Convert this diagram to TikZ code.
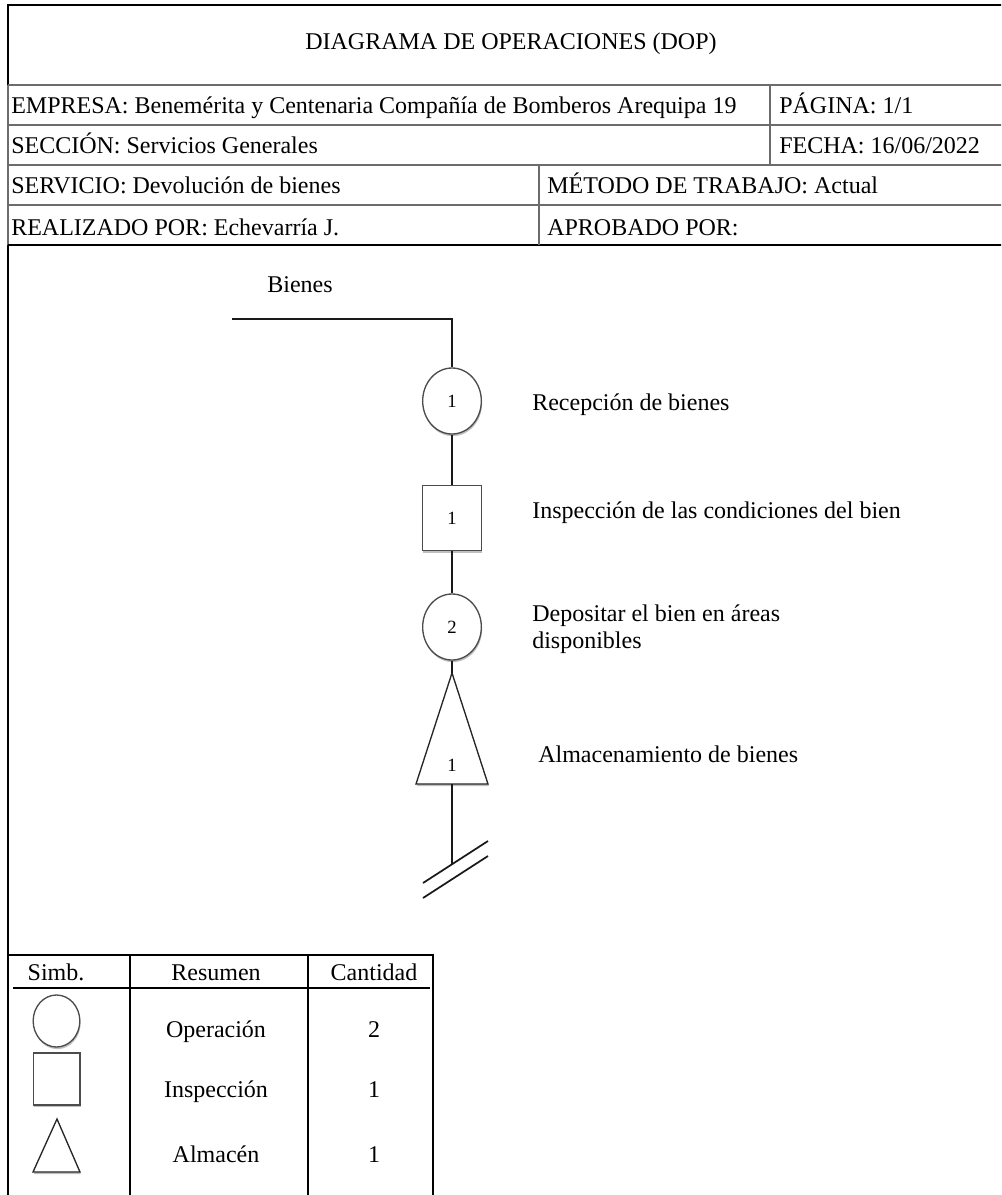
\documentclass[tikz,border=0pt]{standalone}
\usepackage{fontspec}
\setmainfont{Liberation Serif}
\usetikzlibrary{shapes.geometric,shadows}

\tikzset{
  frameline/.style={line width=1.3pt, black},
  rowline/.style={line width=0.9pt, gray!85!black},
  flowline/.style={line width=1.3pt, black!90},
  lbl/.style={inner sep=0pt, anchor=base west, font=\fontsize{18}{21}\selectfont},
  ctr/.style={inner sep=0pt, anchor=base, font=\fontsize{18}{21}\selectfont},
  symshadow/.style={drop shadow={shadow xshift=0.6pt, shadow yshift=-1.6pt, opacity=0.25, fill=black}},
  opcircle/.style={ellipse, draw=black!70, line width=1pt, fill=white, symshadow,
    minimum width=44pt, minimum height=49.5pt, inner sep=0pt, font=\fontsize{14}{16}\selectfont},
  inspbox/.style={rectangle, draw=black!70, line width=1pt, fill=white, symshadow,
    minimum width=44pt, minimum height=49pt, inner sep=0pt, font=\fontsize{14}{16}\selectfont},
  storetri/.style={draw=black!85, line width=1pt, fill=white, symshadow},
}

\begin{document}
\begin{tikzpicture}[x=0.75pt, y=-0.75pt]
\useasboundingbox (0,0) rectangle (1001,1195);
\clip (0,0) rectangle (1001,1195);

% ---- header form ----
\draw[frameline] (8,85) -- (8,5) -- (1010,5);
\draw[rowline] (8,85) -- (8,245);
\draw[frameline] (8,245) -- (8,1200);
\draw[rowline] (8,85) -- (1010,85);
\draw[rowline] (8,125) -- (1010,125);
\draw[rowline] (8,165) -- (1010,165);
\draw[rowline] (8,205) -- (1010,205);
\draw[frameline] (8,245) -- (1010,245);
\draw[rowline] (770,85) -- (770,165);
\draw[rowline] (539,165) -- (539,245);

\node[ctr] (title) at (511,50) {DIAGRAMA DE OPERACIONES (DOP)};
\node[lbl] (empresa) at (11,114) {EMPRESA: Benemérita y Centenaria Compañía de Bomberos Arequipa 19};
\node[lbl] (pagina) at (779,114) {PÁGINA: 1/1};
\node[lbl] (seccion) at (11,154) {SECCIÓN: Servicios Generales};
\node[lbl] (fecha) at (779,154) {FECHA: 16/06/2022};
\node[lbl] (servicio) at (11,194) {SERVICIO: Devolución de bienes};
\node[lbl] (metodo) at (547,194) {MÉTODO DE TRABAJO: Actual};
\node[lbl] (realizado) at (11,235) {REALIZADO POR: Echevarría J.};
\node[lbl] (aprobado) at (547,235) {APROBADO POR:};

% ---- process flow ----
\node[ctr] (bienes) at (300,292) {Bienes};
\coordinate (inflow) at (232,319);
\coordinate (inbend) at (452,319);

\node[opcircle] (op1) at (452,401) {1};
\node[inspbox] (insp1) at (452,518) {1};
\node[opcircle] (op2) at (452,627) {2};

\coordinate (alm1top) at (452,673);
\coordinate (alm1bot) at (452,784);
\draw[storetri] (alm1top) -- (416,784) -- (488,784) -- cycle;
\node[inner sep=0pt, anchor=base, font=\fontsize{14}{16}\selectfont] (alm1) at (452,771) {1};

\coordinate (flowend) at (452,864);
\coordinate (cutAa) at (423,883);
\coordinate (cutAb) at (488,841);
\coordinate (cutBa) at (423,898);
\coordinate (cutBb) at (488,856);

\draw[flowline] (inflow) -- (inbend) -- (op1.north);
\draw[flowline] (op1.south) -- (insp1.north);
\draw[flowline] (insp1.south) -- (op2.north);
\draw[flowline] (op2.south) -- (alm1top);
\draw[flowline] (alm1bot) -- (flowend);
\draw[flowline] (cutAa) -- (cutAb);
\draw[flowline] (cutBa) -- (cutBb);

\node[lbl] (t1) at (532,410) {Recepción de bienes};
\node[lbl] (t2) at (532,518) {Inspección de las condiciones del bien};
\node[lbl] (t3) at (532,621) {Depositar el bien en áreas};
\node[lbl] (t3b) at (532,648) {disponibles};
\node[lbl] (t4) at (538,762) {Almacenamiento de bienes};

% ---- summary table ----
\draw[frameline] (8,955) -- (433,955) -- (433,1200);
\draw[frameline] (130,955) -- (130,1200);
\draw[frameline] (308,955) -- (308,1200);
\draw[frameline] (13,988) -- (430,988);

\node[ctr] (hsimb) at (56,980) {Simb.};
\node[ctr] (hres) at (216,980) {Resumen};
\node[ctr] (hcant) at (374,980) {Cantidad};

\node[opcircle, minimum width=35pt, minimum height=39pt] (symop) at (56.5,1021) {};
\node[inspbox, minimum width=35pt, minimum height=39pt] (symin) at (56.5,1079) {};
\draw[storetri] (57,1119) -- (33,1172) -- (80,1172) -- cycle;

\node[ctr] (rop) at (216,1037) {Operación};
\node[ctr] (cop) at (374,1037) {2};
\node[ctr] (rin) at (216,1097) {Inspección};
\node[ctr] (cin) at (374,1097) {1};
\node[ctr] (ral) at (216,1162) {Almacén};
\node[ctr] (cal) at (374,1162) {1};
\end{tikzpicture}
\end{document}
